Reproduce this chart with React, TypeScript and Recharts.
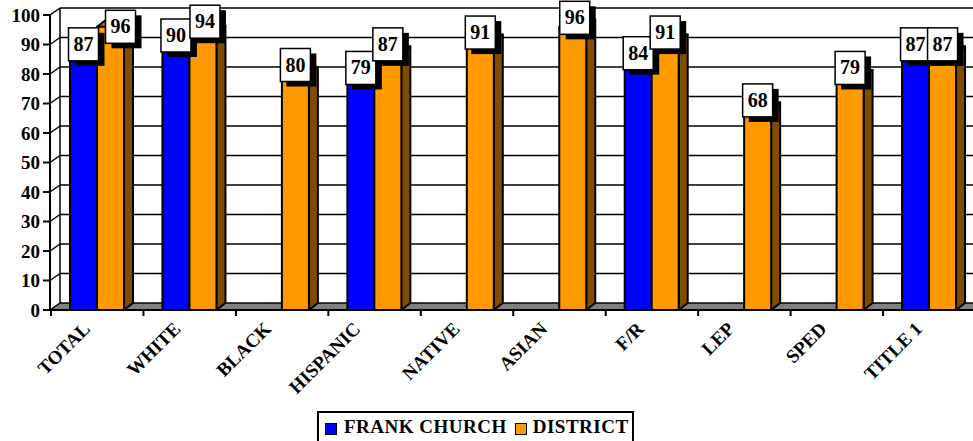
import React from 'react'
import { Bar, BarChart, CartesianGrid, LabelList, Legend, XAxis, YAxis } from 'recharts';

const categories = ['TOTAL', 'WHITE', 'BLACK', 'HISPANIC', 'NATIVE', 'ASIAN', 'F/R', 'LEP', 'SPED', 'TITLE 1'];
const frankChurch = [87, 90, null, 79, null, null, 84, null, null, 87];
const district = [96, 94, 80, 87, 91, 96, 91, 68, 79, 87];
const yTicks = [0, 10, 20, 30, 40, 50, 60, 70, 80, 90, 100];

const data = categories.map((name, i) => ({ name, frank: frankChurch[i], district: district[i] }));

const FONT = '"Liberation Serif", serif';
const DEPTH_X = 9;
const DEPTH_Y = 7;
const BAND = 92.45;

// excel pushed these label boxes sideways so they would not collide
const labelNudge: any = { 'district-0': [10, 9], 'district-1': [2, -2], 'district-5': [2, 0], 'frank-6': [0, 1] };
// rotated labels don't line up evenly under the ticks in the original
const tickShift: any = { WHITE: -2, BLACK: -4, HISPANIC: -7, ASIAN: -5, 'F/R': -1, LEP: -3, SPED: -3 };

const Bar3D = ({ x, y, width, height, fill, top }: any) => {
  if (!height) return null;
  return (
    <g stroke="#000" strokeWidth={2} strokeLinejoin="round">
      <path d={`M${x + width} ${y}l${DEPTH_X} ${-DEPTH_Y}v${height}l${-DEPTH_X} ${DEPTH_Y}z`} fill="#7f4c00" />
      <path d={`M${x} ${y}l${DEPTH_X} ${-DEPTH_Y}h${width}l${-DEPTH_X} ${DEPTH_Y}z`} fill={top} />
      <rect x={x} y={y} width={width} height={height} fill={fill} />
    </g>
  );
};

const makeLabel = (series: string) => ({ x, y, width, value, index }: any) => {
  if (value == null) return null;
  const nudge = labelNudge[`${series}-${index}`] || [0, 0];
  const left = x + width / 2 - 15 + nudge[0];
  const top = y - DEPTH_Y - 18.5 + nudge[1];
  return (
    <g>
      <rect x={left + 6} y={top + 5} width={30} height={33} fill="#000" />
      <rect x={left} y={top} width={30} height={33} fill="#fff" stroke="#000" strokeWidth={1.5} />
      <text x={left + 15} y={top + 23} textAnchor="middle" fontFamily={FONT} fontWeight="bold" fontSize={20} fill="#000">
        {value}
      </text>
    </g>
  );
};

// back wall lines, shifted up and right from the front axis
const WallLine = ({ x1, y1, x2, y2, index }: any) => {
  const isFloor = y1 > 300;
  return (
    <g key={`wall-${index}`} stroke="#000" strokeWidth={1.5}>
      {isFloor && (
        <path d={`M${x1} ${y1}l${DEPTH_X + 1} ${-DEPTH_Y}H${x2}V${y2}z`} fill="#808080" stroke="none" />
      )}
      {isFloor && <line x1={x1 + DEPTH_X + 1} y1={y1 - DEPTH_Y} x2={x1 + DEPTH_X + 1} y2={8} />}
      <line x1={x1} y1={y1} x2={x1 + DEPTH_X + 1} y2={y1 - DEPTH_Y} />
      <line x1={x1 + DEPTH_X + 1} y1={y1 - DEPTH_Y} x2={x2} y2={y2 - DEPTH_Y} />
    </g>
  );
};

const CategoryTick = ({ x, y, payload }: any) => (
  <g>
    <line x1={x - BAND / 2} y1={y - 8} x2={x - BAND / 2} y2={y - 2} stroke="#000" strokeWidth={2} />
    <text
      transform={`translate(${x - 6 + (tickShift[payload.value] || 0)} ${y + 12}) rotate(-45)`}
      textAnchor="end"
      fontFamily={FONT}
      fontWeight="bold"
      fontSize={19}
      fill="#000"
    >
      {payload.value}
    </text>
  </g>
);

const LegendBox = () => (
  <div
    style={{
      width: 317,
      height: 34,
      boxSizing: 'border-box',
      border: '2px solid #000',
      background: '#fff',
      display: 'flex',
      alignItems: 'flex-start',
      paddingTop: 3,
      paddingLeft: 6,
      fontFamily: FONT,
      fontWeight: 'bold',
      fontSize: 19,
      letterSpacing: 0.5,
      color: '#000',
      whiteSpace: 'nowrap',
    }}
  >
    <span style={{ width: 10, height: 10, margin: '7px 7px 0 0', background: '#0000ff', border: '1px solid #000' }} />
    <span style={{ marginRight: 8 }}>FRANK CHURCH</span>
    <span style={{ width: 10, height: 10, margin: '7px 6px 0 0', background: '#ff9900', border: '1px solid #000' }} />
    <span>DISTRICT</span>
  </div>
);

const App = () => {
  return (
    <div style={{ position: 'fixed', left: 0, top: 0, width: 973, height: 441, overflow: 'hidden', background: '#fff' }}>
      <BarChart
        width={973}
        height={441}
        data={data}
        margin={{ top: 15, right: -2.5, bottom: 0, left: 0 }}
        barSize={27}
        barGap={0}
      >
        <CartesianGrid vertical={false} horizontal={WallLine as any} />
        <XAxis
          dataKey="name"
          height={131}
          interval={0}
          padding={{ left: 1 }}
          tickLine={false}
          axisLine={{ stroke: '#000', strokeWidth: 2 }}
          tick={CategoryTick as any}
        />
        <YAxis
          domain={[0, 100]}
          ticks={yTicks}
          width={50}
          interval={0}
          tickSize={7}
          tickMargin={3}
          tickLine={{ stroke: '#000', strokeWidth: 2 }}
          axisLine={{ stroke: '#000', strokeWidth: 2 }}
          tick={{ fill: '#000', fontFamily: FONT, fontWeight: 'bold', fontSize: 19 }}
        />
        <Legend
          verticalAlign="middle"
          align="center"
          layout="horizontal"
          wrapperStyle={{ left: 317, top: 411, width: 317 }}
          content={<LegendBox />}
        />
        <Bar dataKey="frank" name="FRANK CHURCH" fill="#0000ff" isAnimationActive={false} shape={(p: any) => <Bar3D {...p} top="#0000bf" />}>
          <LabelList dataKey="frank" content={makeLabel('frank') as any} />
        </Bar>
        <Bar dataKey="district" name="DISTRICT" fill="#ff9900" isAnimationActive={false} shape={(p: any) => <Bar3D {...p} top="#bf7300" />}>
          <LabelList dataKey="district" content={makeLabel('district') as any} />
        </Bar>
      </BarChart>
    </div>
  );
};

export default App
